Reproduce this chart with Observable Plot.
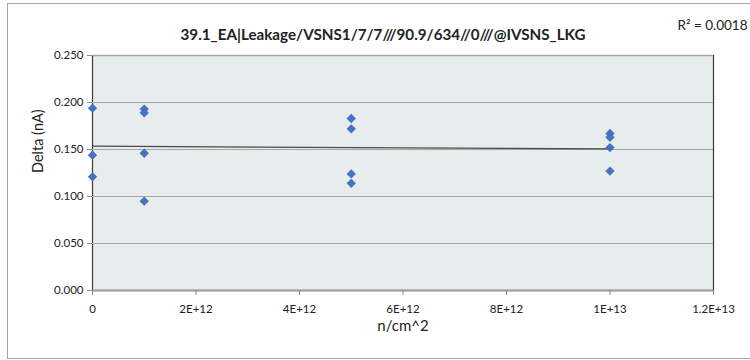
<!DOCTYPE html>
<html><head><meta charset="utf-8">
<script src="https://cdn.jsdelivr.net/npm/d3@7"></script>
<script src="https://cdn.jsdelivr.net/npm/@observablehq/plot@0.6"></script>
<style>
body{margin:0;background:#fff;}
#wrap{position:relative;width:750px;height:360px;overflow:hidden;}
#wrap svg{display:block;}
#border{position:absolute;left:7px;top:3px;width:750px;height:356px;border:1px solid #a6a6a6;box-sizing:border-box;pointer-events:none;}
</style></head><body><div id="wrap"><div id="border"></div></div>
<script>
const fluence = [0, 0, 0, 1e12, 1e12, 1e12, 1e12, 5e12, 5e12, 5e12, 5e12, 1e13, 1e13, 1e13, 1e13];
const delta = [0.194, 0.144, 0.121, 0.193, 0.189, 0.146, 0.095, 0.183, 0.172, 0.124, 0.114, 0.167, 0.163, 0.152, 0.127];
const xTicks = [0, 2e12, 4e12, 6e12, 8e12, 1e13, 1.2e13];
const xTickLabels = ["0", "2E+12", "4E+12", "6E+12", "8E+12", "1E+13", "1.2E+13"];
const yTicks = [0, 0.05, 0.1, 0.15, 0.2, 0.25];
const titleText = "39.1_EA|Leakage/VSNS1/7/7///90.9/634//0///@IVSNS_LKG";
const r2Text = "R² = 0.0018";
const xLabel = "n/cm^2";
const yLabel = "Delta (nA)";

const data = fluence.map((x, i) => ({x, y: delta[i]}));
const font = "Lato, 'Open Sans', sans-serif";

const chart = Plot.plot({
  width: 750, height: 360,
  marginLeft: 92, marginRight: 37, marginTop: 55, marginBottom: 70,
  style: {fontFamily: font, fontSize: "11.5px", color: "#222", background: "transparent", overflow: "visible"},
  x: {domain: [0, 1.2e13], label: null},
  y: {domain: [0, 0.25], label: null},
  marks: [
    Plot.frame({fill: "#e7ecec", stroke: "#3a3a3a", strokeWidth: 1.2}),
    Plot.gridY(yTicks, {stroke: "#a6a6a6", strokeOpacity: 1, strokeWidth: 1}),
    Plot.ruleY([0], {stroke: "#a0a0a0", strokeWidth: 2}),
    Plot.axisX(xTicks, {tickFormat: (d, i) => xTickLabels[i], tickSize: 5, tickPadding: 9, stroke: "#8a8a8a", fill: "#222", label: null}),
    Plot.axisY(yTicks, {tickFormat: d3.format(".3f"), tickSize: 5, tickPadding: 4, stroke: "#8a8a8a", fill: "#222", label: null}),
    Plot.linearRegressionY(data, {x: "x", y: "y", stroke: "#4a4a4a", strokeWidth: 1.2, ci: 0}),
    Plot.dot(data, {x: "x", y: "y", symbol: "diamond2", r: 4.2, fill: "#4472C4", stroke: "none"}),
    Plot.text([titleText], {text: d => d, frameAnchor: "top", dx: -20, dy: -26, fontWeight: "bold", fontSize: 15.2, fill: "#222"}),
    Plot.text([r2Text], {text: d => d, frameAnchor: "top-right", textAnchor: "end", dx: 34, dy: -35, fontSize: 13.5, fill: "#222"}),
    Plot.text([yLabel], {text: d => d, frameAnchor: "left", dx: -54, rotate: -90, fontSize: 14.5, fill: "#222"}),
    Plot.text([xLabel], {text: d => d, frameAnchor: "bottom", dy: 40, fontSize: 15, fill: "#222"})
  ]
});
document.getElementById("wrap").prepend(chart);
</script>
</body></html>
